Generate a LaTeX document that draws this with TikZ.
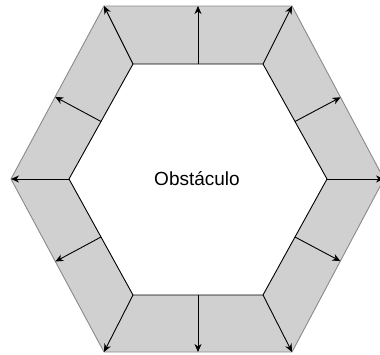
\documentclass[tikz,border=0pt]{standalone}
\usepackage{fontspec}
\setmainfont{Liberation Sans}
\usetikzlibrary{arrows.meta,calc}
\definecolor{bandGray}{HTML}{D0D0D0}
\definecolor{rimGray}{HTML}{8A8A8A}
\tikzset{
  band/.style={fill=bandGray, draw=none},
  rim/.style={draw=rimGray, line width=0.9pt},
  wall/.style={draw=black, line width=0.9pt},
  push/.style={-{Stealth[length=8pt,width=7pt,inset=2.5pt]}, line width=0.9pt},
}

\begin{document}
\begin{tikzpicture}[x=1pt,y=-1pt]
  \useasboundingbox (0,0) rectangle (380,354);
  % outer hexagon
  \coordinate (o1) at (11,179);
  \coordinate (o2) at (104,6);
  \coordinate (o3) at (292,6);
  \coordinate (o4) at (384,179);
  \coordinate (o5) at (292,352);
  \coordinate (o6) at (104,352);
  % inner hexagon (obstacle)
  \coordinate (i1) at (69,179);
  \coordinate (i2) at (133,64);
  \coordinate (i3) at (263,64);
  \coordinate (i4) at (327,179);
  \coordinate (i5) at (263,295);
  \coordinate (i6) at (133,295);
  \fill[band, even odd rule] (o1) -- (o2) -- (o3) -- (o4) -- (o5) -- (o6) -- cycle
    (i1) -- (i2) -- (i3) -- (i4) -- (i5) -- (i6) -- cycle;
  \draw[rim] (o1) -- (o2) -- (o3) -- (o4) -- (o5) -- (o6) -- cycle;
  \draw[wall] (i1) -- (i2) -- (i3) -- (i4) -- (i5) -- (i6) -- cycle;
  % corner arrows
  \foreach \k in {1,...,6}
    \draw[push] (i\k) -- (o\k);
  % edge arrows
  \foreach \a/\b in {1/2,2/3,3/4,4/5,5/6,6/1} {
    \coordinate (m\a) at ($(i\a)!0.5!(i\b)$);
    \coordinate (e\a) at ($(o\a)!(m\a)!(o\b)$);
    \draw[push] (m\a) -- (e\a);
  }
  \node (obst) at (197,179) {\fontsize{19}{22}\selectfont Obstáculo};
\end{tikzpicture}
\end{document}
